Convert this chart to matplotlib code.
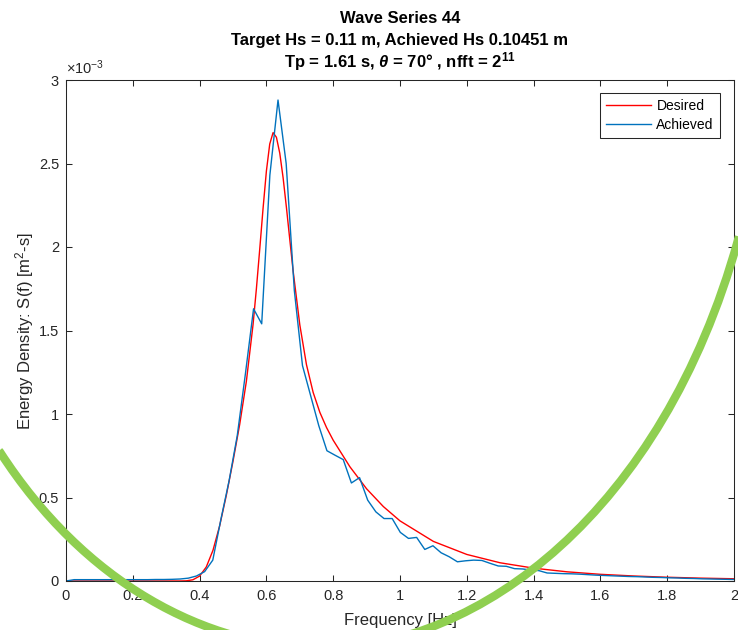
import numpy as np
import matplotlib
matplotlib.use("Agg")
import matplotlib.pyplot as plt
from matplotlib.path import Path
from matplotlib.patches import PathPatch
from matplotlib.ticker import FuncFormatter, MultipleLocator

# desired (target) spectrum, S in units of 1e-3 m^2 s
desired_f = [0, 0.30, 0.34, 0.36, 0.38, 0.40, 0.42, 0.44, 0.46, 0.48, 0.50,
             0.52, 0.54, 0.56, 0.57, 0.58, 0.59, 0.60, 0.61, 0.62, 0.63, 0.64,
             0.65, 0.66, 0.67, 0.68, 0.70, 0.72, 0.74, 0.76, 0.78, 0.80, 0.85,
             0.90, 0.95, 1.0, 1.1, 1.2, 1.3, 1.4, 1.5, 1.6, 1.7, 1.8, 1.9, 2.0]
desired_s = [0, 0, 0.0001, 0.0011, 0.0073, 0.0295, 0.0839, 0.1836, 0.330, 0.513, 0.717,
             0.937, 1.195, 1.535, 1.749, 1.986, 2.231, 2.455, 2.617, 2.685, 2.657, 2.562,
             2.415, 2.236, 2.045, 1.857, 1.534, 1.295, 1.129, 1.010, 0.919, 0.843, 0.684,
             0.552, 0.446, 0.360, 0.237, 0.159, 0.109, 0.077, 0.055, 0.040, 0.030, 0.0225,
             0.0172, 0.0134]

# achieved spectrum, one value per fft bin (df = fs / nfft = 50 / 2048 Hz)
fs = 50.0
nfft = 2048
achieved_s = [0.0, 0.008, 0.008, 0.008, 0.008, 0.008, 0.008, 0.008, 0.008, 0.008,
              0.008, 0.009, 0.009, 0.010, 0.012, 0.017, 0.030, 0.056, 0.125, 0.37,
              0.60, 0.87, 1.24, 1.63, 1.54, 2.43, 2.88, 2.50, 1.74, 1.29,
              1.11, 0.93, 0.78, 0.753, 0.727, 0.587, 0.619, 0.484, 0.414, 0.374,
              0.374, 0.291, 0.255, 0.261, 0.189, 0.211, 0.169, 0.145, 0.115, 0.121,
              0.125, 0.123, 0.106, 0.090, 0.088, 0.074, 0.072, 0.066, 0.062, 0.048,
              0.046, 0.044, 0.043, 0.041, 0.038, 0.035, 0.033, 0.031, 0.029, 0.027,
              0.026, 0.024, 0.022, 0.021, 0.019, 0.018, 0.016, 0.015, 0.013, 0.012,
              0.011, 0.010, 0.009]
achieved_f = np.arange(len(achieved_s)) * fs / nfft

title_lines = ["Wave Series 44",
               "Target Hs = 0.11 m, Achieved Hs 0.10451 m",
               r"Tp = 1.61 s, $\mathit{\theta}$ = 70° , nfft = 2$^{\mathbf{11}}$"]

plt.rcParams['font.family'] = ['Liberation Sans', 'DejaVu Sans']
plt.rcParams['mathtext.fontset'] = 'custom'
plt.rcParams['mathtext.rm'] = 'Liberation Sans'
plt.rcParams['mathtext.it'] = 'Liberation Sans:italic:bold'
plt.rcParams['mathtext.bf'] = 'Liberation Sans:bold'

W, H = 738, 630
fig = plt.figure(figsize=(W / 100, H / 100), dpi=100)
ax = fig.add_axes([66 / W, 49 / H, 668 / W, 501 / H])

dark = '#262626'
ax.plot(desired_f, desired_s, color='#FF0000', lw=1.0, label='Desired')
ax.plot(achieved_f, achieved_s, color='#0072BD', lw=1.0, label='Achieved')

ax.set_xlim(0, 2)
ax.set_ylim(0, 3)
ax.xaxis.set_major_locator(MultipleLocator(0.2))
ax.yaxis.set_major_locator(MultipleLocator(0.5))
fmt = FuncFormatter(lambda v, p: '%g' % round(v, 6))
ax.xaxis.set_major_formatter(fmt)
ax.yaxis.set_major_formatter(fmt)
ax.tick_params(direction='in', length=4.5, width=0.75, top=True, right=True,
               labelsize=10.5, colors=dark)
ax.tick_params(axis='x', pad=6)
ax.tick_params(axis='y', pad=5)
for sp in ax.spines.values():
    sp.set_linewidth(0.75)
    sp.set_color(dark)

ax.set_xlabel('Frequency [Hz]', fontsize=12, color=dark, labelpad=7)
ax.set_ylabel('Energy Density: S(f) [m$^2$-s]', fontsize=12, color=dark, labelpad=2)
ax.text(0.0, 1.006, r'×10$^{-3}$', transform=ax.transAxes, fontsize=10.5,
        color=dark, ha='left', va='bottom')

for txt, base in zip(title_lines, [23, 45, 67]):
    fig.text(400 / W, 1 - base / H, txt, ha='center', va='baseline',
             fontsize=12, fontweight='bold', color='black')

leg = ax.legend(loc='upper right', bbox_to_anchor=(720 / W, 1 - 93 / H),
                bbox_transform=fig.transFigure, borderaxespad=0, fontsize=10,
                fancybox=False, framealpha=1, edgecolor=dark, handlelength=3.2,
                handletextpad=0.4, labelspacing=0.35, borderpad=0.45)
leg.get_frame().set_linewidth(0.75)

# green hand-drawn curve over the figure (pixel coords, y down)
green_px = [(-12, 438), (0, 452),
            (84, 582), (205, 648), (323, 648),
            (478, 648), (662, 513), (738, 240),
            (742, 226)]
green_codes = [Path.MOVETO, Path.LINETO,
               Path.CURVE4, Path.CURVE4, Path.CURVE4,
               Path.CURVE4, Path.CURVE4, Path.CURVE4,
               Path.LINETO]
green_path = Path([(x / W, 1 - y / H) for x, y in green_px], green_codes)
fig.add_artist(PathPatch(green_path, transform=fig.transFigure, fill=False,
                         edgecolor='#8FCF50', lw=6, clip_on=False, zorder=10))

fig.savefig('out.png', dpi=100)
